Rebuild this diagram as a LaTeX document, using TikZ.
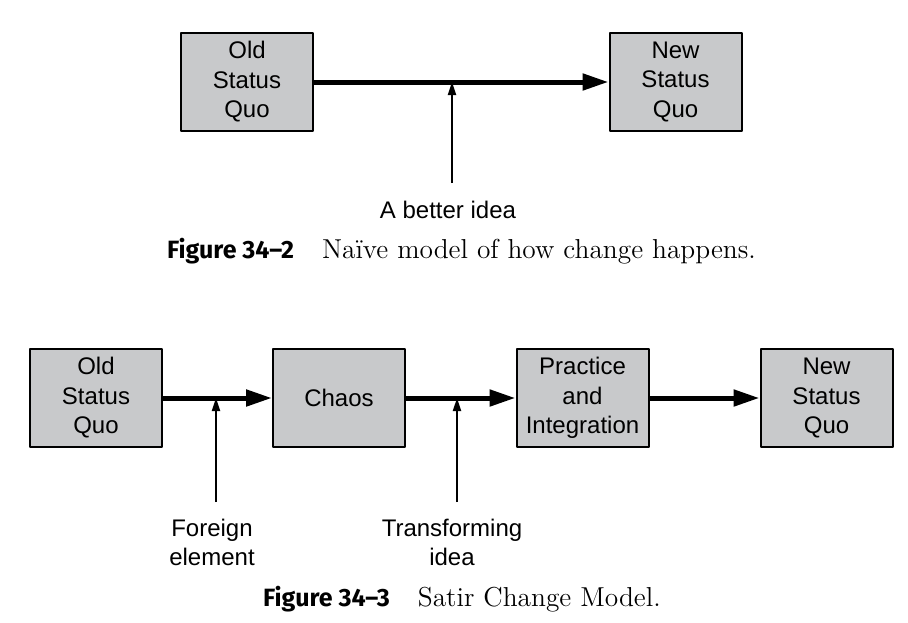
\documentclass[tikz,border=0pt]{standalone}
\usepackage{fontspec}
\setsansfont{Liberation Sans}
\newfontfamily\capfont{Fira Sans}
\usetikzlibrary{arrows.meta,positioning}
\tikzset{
  box/.style={draw=black, line width=1pt, fill=boxgray, minimum width=66pt, minimum height=49pt,
    align=center, font=\sffamily\fontsize{12}{14.75}\selectfont, inner sep=0pt},
  flow/.style={line width=2.5pt, -{Triangle[length=13pt,width=8pt]}},
  push/.style={line width=0.9pt, -{Triangle[length=6.5pt,width=4pt]}},
  lbl/.style={align=center, font=\sffamily\fontsize{12}{14.75}\selectfont, inner sep=0pt},
  figcap/.style={font=\fontsize{13.7}{16}\selectfont, inner sep=0pt}
}
\definecolor{boxgray}{RGB}{200,201,203}
\begin{document}
\begin{tikzpicture}[x=0.5pt, y=-0.5pt, line join=round]
\useasboundingbox (0,0) rectangle (908,622);
% Figure 34-2
\node[box] (old1) at (247,82) {Old\\Status\\Quo};
\node[box] (new1) at (675.5,82) {New\\Status\\Quo};
\draw[flow] (old1.east) -- (new1.west);
\node[lbl] (idea) at (448,210) {A better idea};
\coordinate (t1) at (452,183);
\draw[push] (t1) -- (t1 |- old1.east);
\node[figcap] (cap1) at (461.5,251) {{\capfont\fontsize{12.5}{15}\selectfont\bfseries Figure 34–2}\hspace{14pt}Naïve model of how change happens.};
% Figure 34-3
\node[box] (old2) at (96,398) {Old\\Status\\Quo};
\node[box] (chaos) at (339,398) {Chaos};
\node[box] (pract) at (582.5,398) {Practice\\and\\Integration};
\node[box] (new2) at (826.5,398) {New\\Status\\Quo};
\draw[flow] (old2.east) -- (chaos.west);
\draw[flow] (chaos.east) -- (pract.west);
\draw[flow] (pract.east) -- (new2.west);
\node[lbl] (foreign) at (212,542.5) {Foreign\\element};
\node[lbl] (transf) at (452,542.5) {Transforming\\idea};
\coordinate (t2) at (216,502);
\coordinate (t3) at (457,502);
\draw[push] (t2) -- (t2 |- old2.east);
\draw[push] (t3) -- (t3 |- chaos.east);
\node[figcap] (cap2) at (462,599) {{\capfont\fontsize{12.5}{15}\selectfont\bfseries Figure 34–3}\hspace{14pt}Satir Change Model.};
\end{tikzpicture}
\end{document}
